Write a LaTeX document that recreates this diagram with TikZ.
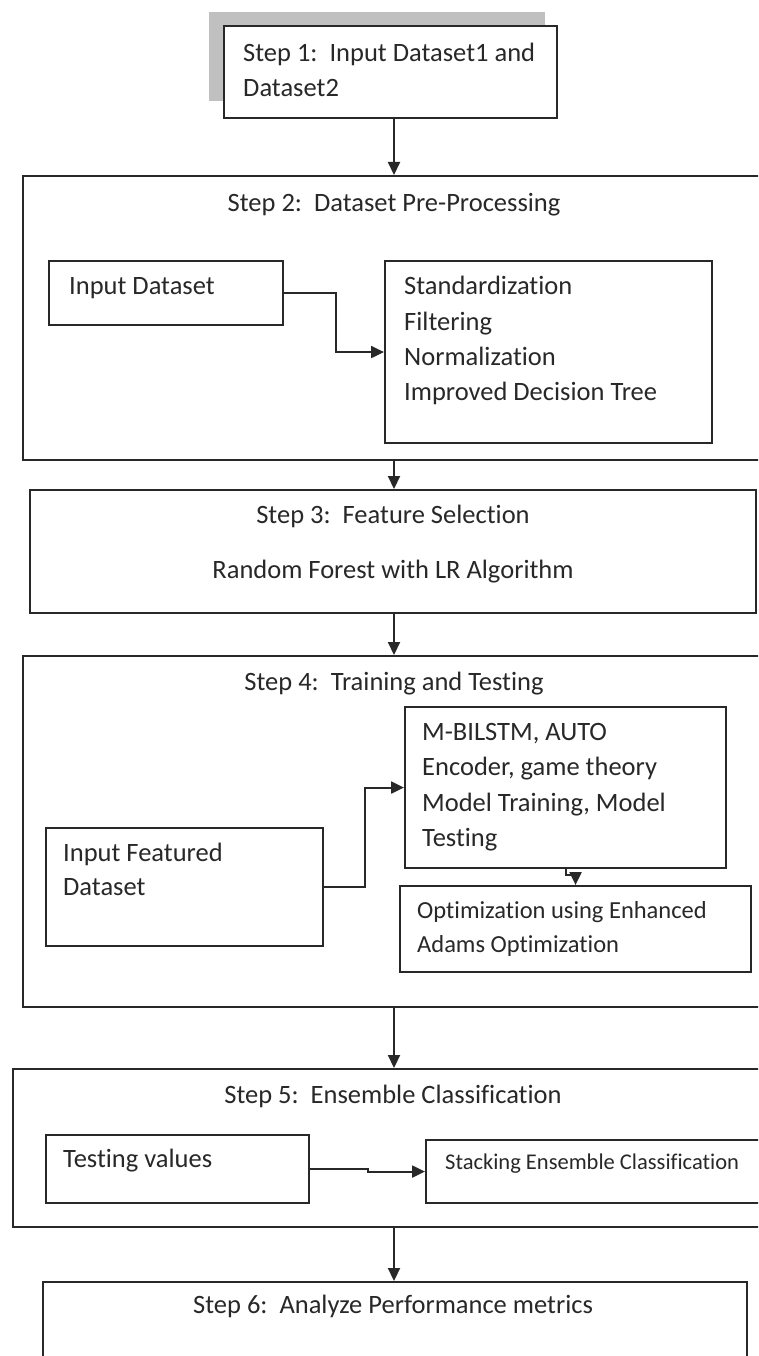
\documentclass[tikz,border=0pt]{standalone}
\usepackage{fontspec}
\setmainfont{Carlito}[Ligatures={NoCommon}]
\usetikzlibrary{arrows.meta}
\definecolor{shadowgray}{RGB}{192,192,192}
\definecolor{ink}{RGB}{40,40,40}
\begin{document}
\begin{tikzpicture}[x=1pt,y=-1pt,
  box/.style={draw=ink, line width=2.1pt, fill=white, anchor=north west, inner sep=0pt},
  body/.style={font=\fontsize{26.5}{36}\selectfont, anchor=base west, inner sep=0pt, text=ink},
  title/.style={font=\fontsize{26.5}{36}\selectfont, anchor=base, inner sep=0pt, text=ink},
  small/.style={font=\fontsize{24.5}{34}\selectfont, anchor=base west, inner sep=0pt, text=ink},
  smaller/.style={font=\fontsize{22.5}{30}\selectfont, anchor=base west, inner sep=0pt, text=ink},
  arr/.style={draw=ink, line width=2.1pt, -{Triangle[length=13pt,width=12pt]}}]
\useasboundingbox (0,0) rectangle (758,1356);
\clip (0,0) rectangle (758,1356);
\coordinate (ax) at (394,0);

% Step 1 with its grey shadow
\fill[shadowgray] (209,12) rectangle (545,101);
\node[box, minimum width=333pt, minimum height=92pt] (s1) at (223,25) {};
\node[body] (s1a) at (243,62) {Step 1:~~Input Dataset1 and};
\node[body] (s1b) at (243,97) {Dataset2};

% Step 2
\node[box, minimum width=760pt, minimum height=284pt] (s2) at (22,175) {};
\node[title] (s2t) at (394,212) {Step 2:~~Dataset Pre-Processing};
\node[box, minimum width=234pt, minimum height=64pt] (in2) at (48,260) {};
\node[body] (in2t) at (69,294) {Input Dataset};
\node[box, minimum width=327pt, minimum height=182pt] (pp) at (384,260) {};
\node[body] (pp1) at (404,294) {Standardization};
\node[body] (pp2) at (404,330) {Filtering};
\node[body] (pp3) at (404,365) {Normalization};
\node[body] (pp4) at (404,400) {Improved Decision Tree};

% Step 3
\node[box, minimum width=726pt, minimum height=123pt] (s3) at (29,489) {};
\node[title] (s3t) at (393,523) {Step 3:~~Feature Selection};
\node[title] (s3b) at (393,578) {Random Forest with LR Algorithm};

% Step 4
\node[box, minimum width=760pt, minimum height=351pt] (s4) at (22,655) {};
\node[title] (s4t) at (394,690) {Step 4:~~Training and Testing};
\node[box, minimum width=321pt, minimum height=161pt] (mb) at (404,706) {};
\node[body] (mb1) at (422,740) {M-BILSTM, AUTO};
\node[body] (mb2) at (422,775) {Encoder, game theory};
\node[body] (mb3) at (422,811) {Model Training, Model};
\node[body] (mb4) at (422,846) {Testing};
\node[box, minimum width=277pt, minimum height=118pt] (inf) at (45,827) {};
\node[body] (inf1) at (63,861) {Input Featured};
\node[body] (inf2) at (63,895) {Dataset};
\node[box, minimum width=351pt, minimum height=86pt] (opt) at (399,885) {};
\node[small] (opt1) at (417,918) {Optimization using Enhanced};
\node[small] (opt2) at (417,952) {Adams Optimization};

% Step 5
\node[box, minimum width=770pt, minimum height=158pt] (s5) at (12,1068) {};
\node[title] (s5t) at (393,1103) {Step 5:~~Ensemble Classification};
\node[box, minimum width=263pt, minimum height=68pt] (tv) at (45,1134) {};
\node[body] (tvt) at (63,1167) {Testing values};
\node[box, minimum width=360pt, minimum height=63pt] (sk) at (425,1139) {};
\node[smaller] (skt) at (445,1169) {Stacking Ensemble Classification};

% Step 6
\node[box, minimum width=704pt, minimum height=140pt] (s6) at (42,1281) {};
\node[title] (s6t) at (393,1313) {Step 6:~~Analyze Performance metrics};

% connectors between the steps
\draw[arr] (s1.south -| ax) -- (s2.north -| ax);
\draw[arr] (s2.south -| ax) -- (s3.north -| ax);
\draw[arr] (s3.south -| ax) -- (s4.north -| ax);
\draw[arr] (s4.south -| ax) -- (s5.north -| ax);
\draw[arr] (s5.south -| ax) -- (s6.north -| ax);

% connectors inside the steps
\draw[arr] (in2.east) -- ++(52,0) |- (pp.west);
\draw[arr] (inf.east) -- ++(41,0) |- (mb.west);
\draw[arr] (mb.south) -- ++(0,6) -| (opt.north);
\draw[arr] (tv.east) -- ++(58,0) |- (sk.west);
\end{tikzpicture}
\end{document}
